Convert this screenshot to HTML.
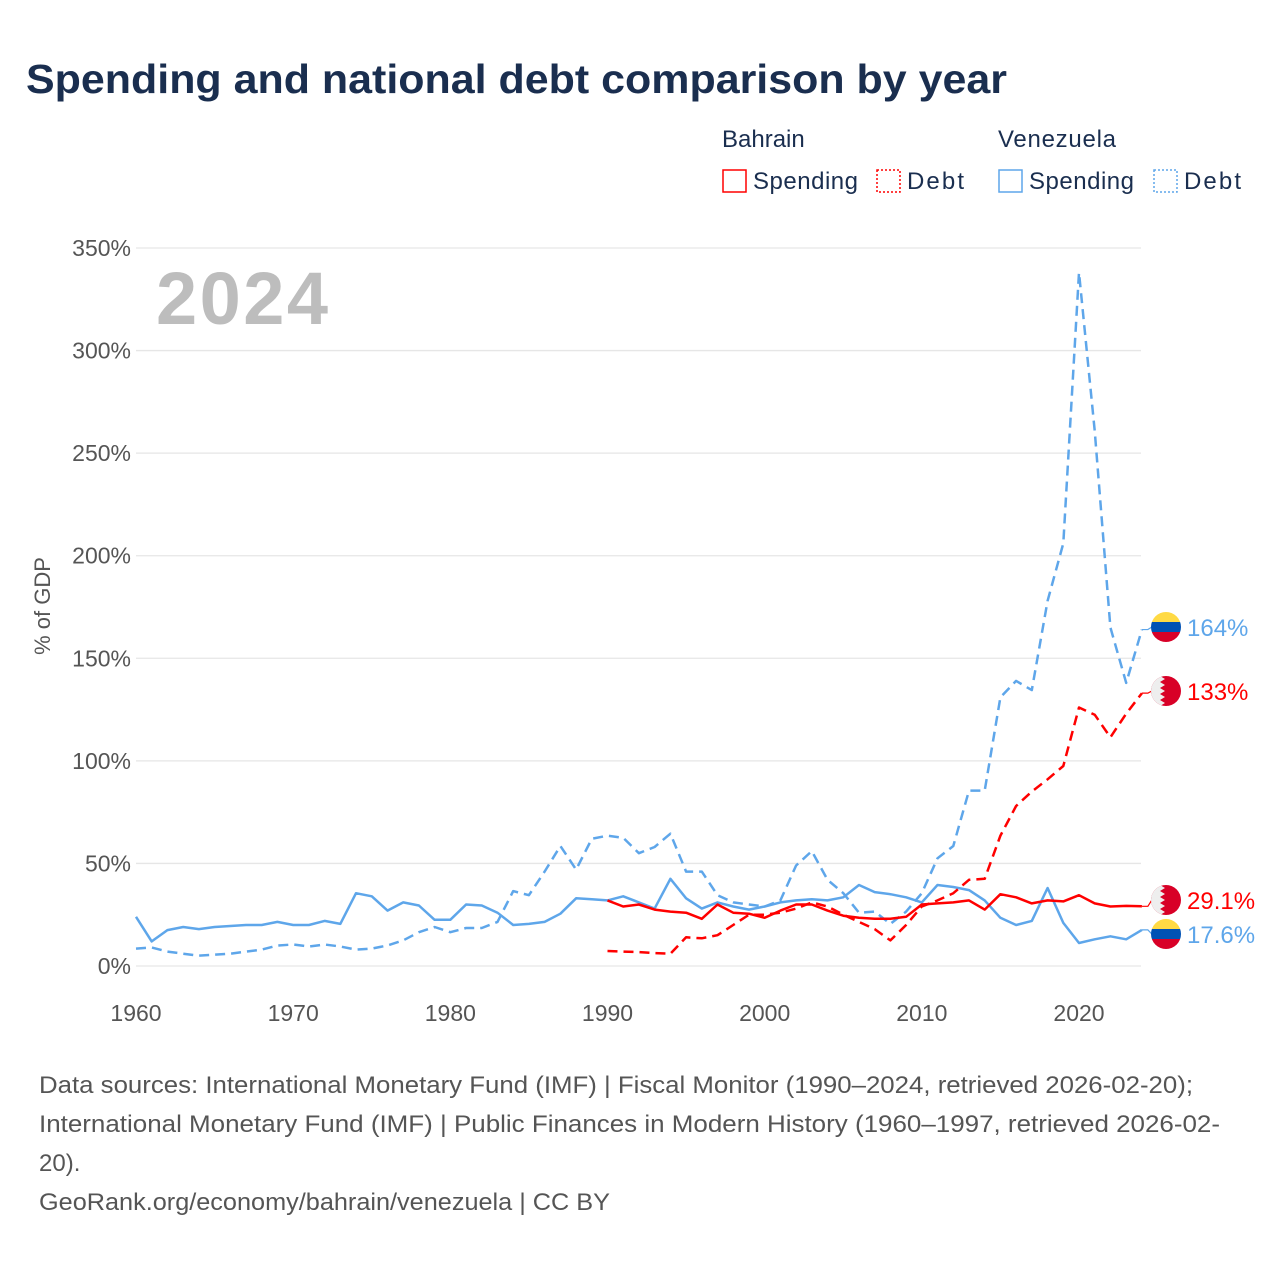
<!DOCTYPE html>
<html><head><meta charset="utf-8"><style>
body{margin:0;background:#fff;width:1280px;height:1280px;overflow:hidden;font-family:"Liberation Sans",sans-serif}
svg text{font-family:"Liberation Sans",sans-serif}
</style></head><body>
<svg id="c" width="1280" height="1280">
<text x="26" y="93" font-size="41" font-weight="bold" fill="#1a2e4f" textLength="981" lengthAdjust="spacingAndGlyphs">Spending and national debt comparison by year</text>
<g font-size="24" fill="#1a2e4f">
<text x="722" y="147">Bahrain</text>
<rect x="723" y="170" width="23" height="22" fill="none" stroke="#f00" stroke-width="1.5"/>
<text x="753" y="189" textLength="105">Spending</text>
<rect x="877" y="170" width="23" height="22" fill="none" stroke="#f00" stroke-width="1.5" stroke-dasharray="2,2"/>
<text x="907" y="189" textLength="57">Debt</text>
<text x="998" y="147" textLength="118">Venezuela</text>
<rect x="999" y="170" width="23" height="22" fill="none" stroke="#5ea6ea" stroke-width="1.5"/>
<text x="1029" y="189" textLength="105">Spending</text>
<rect x="1154" y="170" width="23" height="22" fill="none" stroke="#5ea6ea" stroke-width="1.5" stroke-dasharray="2,2"/>
<text x="1184" y="189" textLength="57">Debt</text>
</g>
<text x="156" y="324" font-size="74" font-weight="bold" fill="#bdbdbd" textLength="172">2024</text>
<text transform="translate(50,606) rotate(-90)" text-anchor="middle" font-size="22" fill="#555">% of GDP</text>
<g id="grid"></g><g id="lines"></g><g id="ends"></g>
<g font-size="24" fill="#555">
<text x="39" y="1093" textLength="1154" lengthAdjust="spacingAndGlyphs">Data sources: International Monetary Fund (IMF) | Fiscal Monitor (1990–2024, retrieved 2026-02-20);</text>
<text x="39" y="1132" textLength="1181" lengthAdjust="spacingAndGlyphs">International Monetary Fund (IMF) | Public Finances in Modern History (1960–1997, retrieved 2026-02-</text>
<text x="39" y="1171">20).</text>
<text x="39" y="1210" textLength="571" lengthAdjust="spacingAndGlyphs">GeoRank.org/economy/bahrain/venezuela | CC BY</text>
</g>
</svg>
<script>
const yTicks=[0,50,100,150,200,250,300,350];
const xTicks=[1960,1970,1980,1990,2000,2010,2020];
const venSpendStart=1960;
const venSpending=[24,12,17.5,19,18,19,19.5,20,20,21.5,20,20,22,20.5,35.5,34,27,31,29.5,22.5,22.5,30,29.5,26,20,20.5,21.5,25.5,33,32.5,32,34,31,28,42.5,33,28,31,29,27.5,29,31,32,32.5,32,33.5,39.5,36,35,33.5,31,39.5,38.5,37,32,23.5,20,22,38,21,11.2,13,14.5,13,17.6];
const venDebt=[8.5,9,7,6,5,5.5,6,7,8,10,10.5,9.5,10.5,9.5,8,8.5,10,12.5,16.5,19,16.5,18.5,18.5,21.5,36.5,34.5,46,58.5,47,62,63.5,62.5,55,58,64.5,46,46,34.5,31,30,29,32,49,56,42,35.5,26,26.5,20.5,26.5,35.5,52.5,58.5,85.5,85.5,131,139,134.5,178,206,338,261,165,138,164];
const bhrStart=1990;
const bhrSpending=[32,29,30,27.5,26.5,26,23,30,26,25.5,23.5,27,30,30,27,24.5,23.5,23,23,24,30,30.5,31,32,27.5,35,33.5,30.5,32,31.5,34.5,30.5,29,29.3,29.1];
const bhrDebt=[7.3,7,6.8,6.3,6,14,13.5,15,20,25,25,26,28,31,29,25,21.5,18,12.5,20,29,32,35.5,42,42.5,63.5,78,85,91,97.5,126,122.5,111.5,123,133];
const endLabels=["164%","133%","29.1%","17.6%"];
const NS="http://www.w3.org/2000/svg";
const X=y=>136+(y-1960)*(943/60);
const Y=v=>966-v*(718/350);
function mk(t,a,p){const e=document.createElementNS(NS,t);for(const k in a)e.setAttribute(k,a[k]);p.appendChild(e);return e;}
const grid=document.getElementById('grid');
yTicks.forEach(v=>{
 const l=mk('line',{x1:136,x2:1141,y1:Y(v),y2:Y(v),stroke:'#e6e6e6','stroke-width':1.3},grid);
 
 
 const t=mk('text',{x:131,y:Y(v)+8,'text-anchor':'end','font-size':23,fill:'#555'},grid);t.textContent=v+'%';
 
 
});
xTicks.forEach(y=>{
 const t=mk('text',{x:X(y),y:1021,'text-anchor':'middle','font-size':23,fill:'#555'},grid);t.textContent=y;
 
 
});
const lines=document.getElementById('lines');
function series(arr,start,color,dash,name){
 const pts=arr.map((v,i)=>X(start+i).toFixed(1)+','+Y(v).toFixed(1)).join(' ');
 const p=mk('polyline',{points:pts,fill:'none',stroke:color,'stroke-width':2.5,'stroke-linejoin':'round'},lines);
 if(dash)p.setAttribute('stroke-dasharray','10,6');
 
 
}
series(venSpending,venSpendStart,'#5ea6ea',false,'venezuela-spending-line');
series(venDebt,venSpendStart,'#5ea6ea',true,'venezuela-debt-line');
series(bhrSpending,bhrStart,'#f00',false,'bahrain-spending-line');
series(bhrDebt,bhrStart,'#f00',true,'bahrain-debt-line');
const ends=document.getElementById('ends');
const lastVals=[venDebt[venDebt.length-1],bhrDebt[bhrDebt.length-1],bhrSpending[bhrSpending.length-1],venSpending[venSpending.length-1]];
const labY=[627,691,900,934];
const cols=['#5ea6ea','#f00','#f00','#5ea6ea'];
const flags=['ven','bhr','bhr','ven'];
lastVals.forEach((v,i)=>{
 const x0=X(2024),y0=Y(v),ly=labY[i];
 const c=mk('polyline',{points:`${x0},${y0} ${x0+6},${y0} ${x0+10},${ly} ${x0+14},${ly}`,fill:'none',stroke:cols[i],'stroke-width':1.2},ends);
 
 
 const g=mk('g',{},ends);
 
 
 const cx=1166,r=15;
 const cp=mk('clipPath',{id:'cp'+i},g);mk('circle',{cx:cx,cy:ly,r:r},cp);
 const gg=mk('g',{'clip-path':'url(#cp'+i+')'},g);
 if(flags[i]=='ven'){
  mk('rect',{x:cx-r,y:ly-r,width:2*r,height:10,fill:'#ffda44'},gg);
  mk('rect',{x:cx-r,y:ly-5,width:2*r,height:10,fill:'#0052b4'},gg);
  mk('rect',{x:cx-r,y:ly+5,width:2*r,height:10,fill:'#d80027'},gg);
 }else{
  mk('rect',{x:cx-r,y:ly-r,width:2*r,height:2*r,fill:'#d80027'},gg);
  let pts=`${cx-r},${ly-r} `;for(let k=0;k<5;k++){const yy=ly-r+k*6;pts+=`${cx-6},${yy} ${cx-1},${yy+3} `;}pts+=`${cx-6},${ly+r} ${cx-r},${ly+r}`;
  mk('polygon',{points:pts,fill:'#eee'},gg);
 }
 const t=mk('text',{x:1187,y:ly+9,'font-size':24,fill:cols[i]},ends);t.textContent=endLabels[i];
 
 
});
</script>
</body></html>
